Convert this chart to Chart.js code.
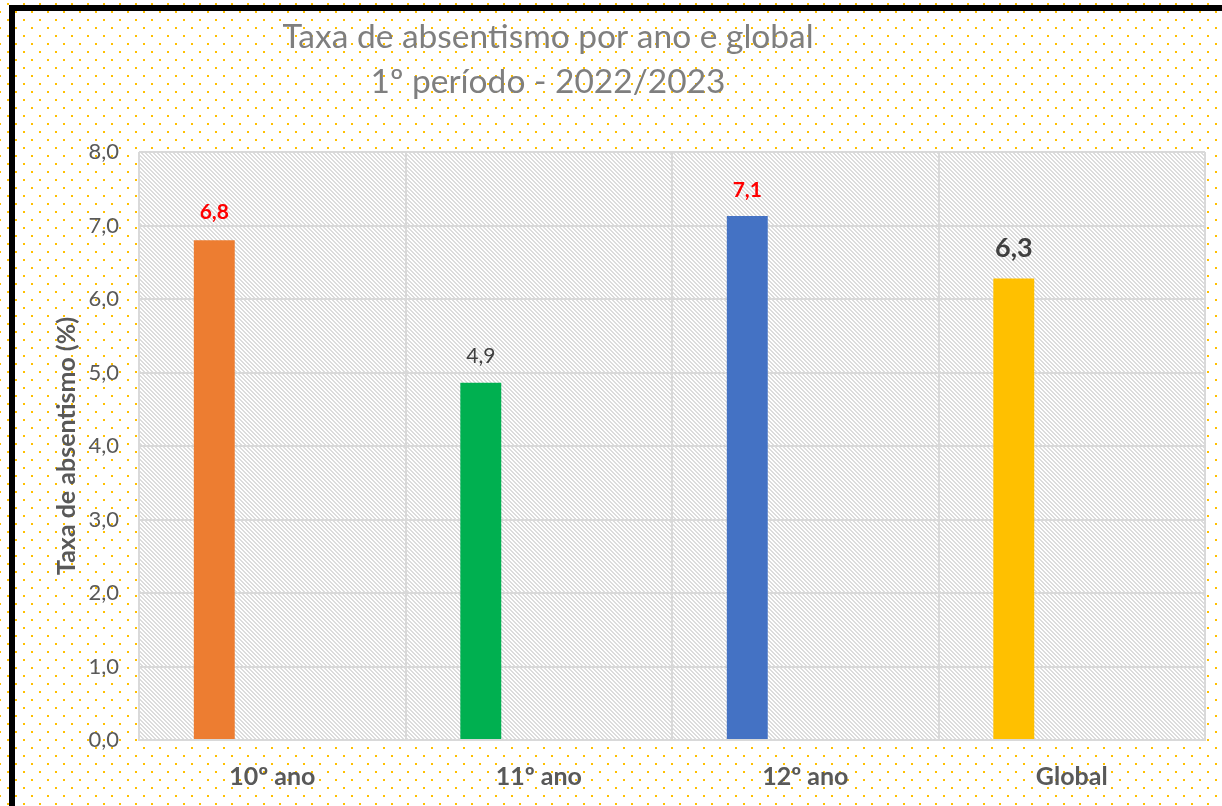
<!DOCTYPE html>
<html lang="pt">
<head>
<meta charset="utf-8">
<title>Taxa de absentismo por ano e global</title>
<script src="https://cdn.jsdelivr.net/npm/chart.js@4.4.1/dist/chart.umd.min.js"></script>
<style>
    html, body { margin: 0; padding: 0; background: #ffffff; }
    #caixa { position: relative; width: 1222px; height: 806px; }
</style>
</head>
<body>
<div id="caixa"><canvas id="grafico" width="1222" height="806"></canvas></div>
<script>
// Dados do gráfico
const categorias = ['10º ano', '11º ano', '12º ano', 'Global'];
const taxas = [6.8, 4.86, 7.13, 6.28];
const vazio = [null, null, null, null]; // série vazia que empurra as barras para a esquerda
const coresBarras = ['#ED7D31', '#00B050', '#4472C4', '#FFC000'];
const tituloLinhas = ['Taxa de absentismo por ano e global', '1º período - 2022/2023'];
const ticksY = [0, 1, 2, 3, 4, 5, 6, 7, 8];

// Estilo de cada rótulo de valor (cor, peso, tamanho)
const estiloRotulos = [
    { cor: '#FF0000', peso: 'bold', tamanho: 21, afastamento: 28 },
    { cor: '#404040', peso: 'normal', tamanho: 21, afastamento: 27 },
    { cor: '#FF0000', peso: 'bold', tamanho: 21, afastamento: 26 },
    { cor: '#404040', peso: 'bold', tamanho: 27, afastamento: 30 }
];

const FONTE = 'Lato, "Open Sans", sans-serif';

const formatar = v => v.toFixed(1).replace('.', ',');

// Padrões de fundo (pontos amarelos e tracejado diagonal)
function criarPadraoPontos(ctx) {
    const c = document.createElement('canvas');
    c.width = 16; c.height = 16;
    const g = c.getContext('2d');
    g.fillStyle = '#FFC000';
    g.fillRect(0, 0, 2, 2);
    g.fillRect(8, 8, 2, 2);
    return ctx.createPattern(c, 'repeat');
}

function criarPadraoTracejado(ctx) {
    const c = document.createElement('canvas');
    c.width = 4; c.height = 4;
    const g = c.getContext('2d');
    g.fillStyle = '#ffffff';
    g.fillRect(0, 0, 4, 4);
    g.fillStyle = '#dcdcdc';
    for (let y = 0; y < 4; y++) {
        for (let x = 0; x < 4; x++) {
            const d = ((x - y) % 4 + 4) % 4;
            if (d === 0 || d === 1) g.fillRect(x, y, 1, 1);
        }
    }
    return ctx.createPattern(c, 'repeat');
}

const pluginFundo = {
    id: 'fundo',
    beforeDraw(chart) {
        const { ctx, width, height, chartArea } = chart;
        ctx.save();
        ctx.fillStyle = '#ffffff';
        ctx.fillRect(0, 0, width, height);
        ctx.translate(7, 3);
        ctx.fillStyle = criarPadraoPontos(ctx);
        ctx.fillRect(-7, -3, width, height);
        ctx.restore();

        ctx.save();
        ctx.fillStyle = criarPadraoTracejado(ctx);
        ctx.fillRect(chartArea.left, chartArea.top, chartArea.right - chartArea.left, chartArea.bottom - chartArea.top);
        ctx.restore();
    },
    afterDraw(chart) {
        const { ctx, width, height } = chart;
        // Moldura preta (esquerda e topo)
        ctx.save();
        ctx.fillStyle = '#000000';
        ctx.fillRect(9, 5, 6, height);
        ctx.fillRect(9, 5, width, 6);
        ctx.restore();

        // Título em duas linhas
        ctx.save();
        ctx.fillStyle = '#7F7F7F';
        ctx.font = '33.5px ' + FONTE;
        ctx.textAlign = 'center';
        ctx.textBaseline = 'alphabetic';
        ctx.fillText(tituloLinhas[0], 548, 48);
        ctx.fillText(tituloLinhas[1], 548, 93);
        ctx.restore();
    }
};

// Rótulos de valor por cima das barras
const pluginRotulos = {
    id: 'rotulos',
    afterDatasetsDraw(chart) {
        const { ctx } = chart;
        const meta = chart.getDatasetMeta(0);
        ctx.save();
        ctx.textAlign = 'center';
        ctx.textBaseline = 'middle';
        meta.data.forEach((barra, i) => {
            const e = estiloRotulos[i];
            ctx.fillStyle = e.cor;
            ctx.font = e.peso + ' ' + e.tamanho + 'px ' + FONTE;
            ctx.fillText(formatar(taxas[i]), barra.x, barra.y - e.afastamento);
        });
        ctx.restore();
    }
};

const ctx = document.getElementById('grafico').getContext('2d');

new Chart(ctx, {
    type: 'bar',
    data: {
        labels: categorias,
        datasets: [
            {
                label: 'Taxa de absentismo',
                data: taxas,
                backgroundColor: coresBarras,
                borderWidth: 0,
                categoryPercentage: 0.87,
                barPercentage: 0.353
            },
            {
                label: '',
                data: vazio,
                backgroundColor: 'rgba(0,0,0,0)',
                categoryPercentage: 0.87,
                barPercentage: 0.353
            }
        ]
    },
    options: {
        responsive: false,
        animation: false,
        layout: {
            padding: { top: 152, right: 17, bottom: 0, left: 0 }
        },
        plugins: {
            legend: { display: false },
            title: { display: false },
            tooltip: { enabled: false }
        },
        scales: {
            x: {
                grid: {
                    color: '#D9D9D9',
                    lineWidth: 2,
                    drawTicks: false,
                    offset: true
                },
                border: { color: '#D9D9D9', width: 2 },
                ticks: {
                    color: '#595959',
                    font: { family: FONTE, size: 25, weight: 'bold' },
                    padding: 22
                },
                afterFit(escala) { escala.height = 66; }
            },
            y: {
                min: 0,
                max: 8,
                afterBuildTicks(escala) {
                    escala.ticks = ticksY.map(v => ({ value: v }));
                },
                grid: {
                    color: '#D9D9D9',
                    lineWidth: 2,
                    drawTicks: false
                },
                border: { display: false },
                ticks: {
                    color: '#595959',
                    font: { family: FONTE, size: 22 },
                    padding: 20,
                    callback: v => formatar(v)
                },
                title: {
                    display: true,
                    text: 'Taxa de absentismo (%)',
                    color: '#595959',
                    font: { family: FONTE, size: 25, weight: 'bold' },
                    padding: { top: 52, bottom: 0 }
                },
                afterFit(escala) { escala.width = 139; }
            }
        }
    },
    plugins: [pluginFundo, pluginRotulos]
});
</script>
</body>
</html>
